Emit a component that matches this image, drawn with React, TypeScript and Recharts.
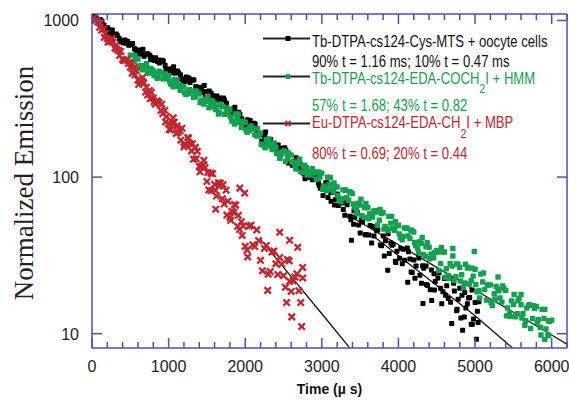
import React from "react";
import {
  ComposedChart,
  Scatter,
  Line,
  XAxis,
  YAxis,
  ReferenceLine,
} from "recharts";

// [time (µs), normalized emission]
const cysMts: [number, number][] = [
  [30, 1075], [80, 988], [130, 989], [180, 881], [230, 868], [280, 809], [330, 803], [380, 730], [430, 750], [480, 694],
  [530, 712], [580, 638], [630, 648], [680, 590], [730, 613], [780, 580], [830, 579], [880, 536], [930, 550], [980, 488],
  [1030, 492], [1080, 460], [1130, 464], [1180, 415], [1230, 435], [1280, 402], [1330, 417], [1380, 367], [1430, 375], [1480, 337],
  [1530, 354], [1580, 331], [1630, 330], [1680, 301], [1730, 311], [1780, 269], [1830, 272], [1880, 250], [1930, 252], [1980, 220],
  [2030, 232], [2080, 210], [2130, 217], [2180, 186], [2230, 188], [2280, 165], [2330, 174], [2380, 161], [2430, 160], [2480, 142],
  [2530, 149], [2580, 124], [2630, 126], [2680, 113], [2730, 115], [2780, 97.5], [2830, 108], [2880, 96], [2930, 102], [2980, 85],
  [3030, 87], [3080, 74], [3130, 80], [3180, 72], [3230, 71.5], [3280, 62], [3330, 66.5], [3380, 53.4], [3430, 55.5], [3480, 49.4],
  [3530, 51.7], [3580, 42.8], [3630, 49.1], [3680, 42], [3730, 45.9], [3780, 36.4], [3830, 39.2], [3880, 32.5], [3930, 37.1], [3980, 33.6],
  [4030, 35.1], [4080, 29.4], [4130, 33.4], [4180, 24.6], [4230, 27], [4280, 23.6], [4330, 26.2], [4380, 20.3], [4430, 25.5], [4480, 21.5],
  [4530, 24.5], [4580, 18.5], [4630, 20.2], [4680, 15.9], [4730, 18.7], [4780, 16.6], [4830, 17.6], [4880, 14.6], [4930, 17], [4980, 12.4],
  [5030, 13.9],
  [55, 1040], [105, 1010], [155, 935], [205, 900], [255, 830], [305, 815], [355, 770], [405, 745], [455, 712], [505, 700],
  [555, 660], [655, 612], [755, 600], [855, 548], [955, 515], [1055, 475], [1155, 450], [1255, 420], [1355, 378], [1455, 352],
  [1555, 343], [1655, 308], [1755, 296], [1855, 268], [1955, 236], [2055, 214], [2155, 196], [2255, 182], [2355, 160], [2455, 150],
  [2555, 134], [2655, 119], [2755, 110], [2855, 99], [2955, 92],
  [115, 1007], [215, 832], [315, 821], [415, 719], [515, 711], [615, 612], [715, 610], [815, 556], [915, 558], [1015, 464],
  [1115, 476], [1215, 407], [1315, 419], [1415, 346], [1515, 352], [1615, 314], [1715, 320], [1815, 257], [1915, 259], [2015, 214],
  [2115, 221], [2215, 170], [2315, 173], [2415, 150], [2515, 154], [2615, 119], [2715, 121], [2815, 100], [2915, 103],
  [165, 869], [265, 868], [365, 748], [465, 736], [565, 654], [665, 655], [765, 562], [865, 560], [965, 487], [1065, 507],
  [1165, 424], [1265, 429], [1365, 376], [1465, 385], [1565, 316], [1665, 320], [1765, 266], [1865, 279], [1965, 228], [2065, 230],
  [2165, 192], [2265, 194], [2365, 151], [2465, 153], [2565, 123], [2665, 133], [2765, 105], [2865, 107], [2965, 88.5],
  [3015, 76.3], [3115, 79.8], [3215, 65.8], [3315, 69.6], [3415, 50], [3515, 53.3], [3615, 42.6], [3715, 45.5], [3815, 31.3], [3915, 36.7],
  [4015, 30.3], [4115, 35.2], [4215, 22.6], [4315, 27.1], [4415, 19.1], [4515, 22.7], [4615, 17.6], [4715, 22.1], [4815, 12.6], [4915, 16.9],
  [3065, 92.2], [3165, 66.4], [3265, 68.2], [3365, 56.3], [3465, 59.5], [3565, 42.9], [3665, 48.4], [3765, 36.8], [3865, 43.4], [3965, 28.5],
  [4065, 34.6], [4165, 24.8], [4265, 30.4], [4365, 20.6], [4465, 24.1], [4565, 15.5], [4665, 22.9], [4765, 14.3], [4865, 18.3], [4965, 11.5],
  [3050, 92], [3120, 70], [3200, 78], [3300, 57], [3386, 39.5], [3420, 61], [3500, 44], [3560, 55], [3650, 38], [3700, 48],
  [3800, 42], [3860, 25.4], [3900, 38], [3960, 29], [4050, 28], [4121, 21.3], [4150, 30], [4200, 29.5], [4300, 21], [4320, 15.6],
  [4360, 27], [4434, 16.3], [4470, 19], [4550, 19.5], [4600, 22.5], [4650, 16.8], [4695, 11.6], [4720, 21], [4760, 14], [4800, 19.5],
  [4838, 10.5], [4860, 12.8], [4900, 15.5], [4950, 11.5], [4960, 19], [5000, 15.8], [5018, 9.2], [5040, 11.8], [5050, 16],
];

const edaCoch2i: [number, number][] = [
  [500, 601], [550, 549], [600, 567], [650, 493], [700, 501], [750, 463], [800, 476], [850, 427], [900, 461], [950, 426],
  [1000, 444], [1050, 390], [1100, 399], [1150, 358], [1200, 376], [1250, 351], [1300, 353], [1350, 326], [1400, 339], [1450, 298],
  [1500, 305], [1550, 282], [1600, 294], [1650, 253], [1700, 281], [1750, 253], [1800, 269], [1850, 228], [1900, 238], [1950, 207],
  [2000, 224], [2050, 206], [2100, 205], [2150, 183], [2200, 191], [2250, 157], [2300, 163], [2350, 150], [2400, 155], [2450, 132],
  [2500, 146], [2550, 131], [2600, 138], [2650, 118], [2700, 122], [2750, 107], [2800, 115], [2850, 107], [2900, 108], [2950, 97.1],
  [3000, 106], [3050, 83.7], [3100, 90], [3150, 80.8], [3200, 86.5], [3250, 69.5], [3300, 82.4], [3350, 71.2], [3400, 78.4], [3450, 62.2],
  [3500, 66.3], [3550, 55.3], [3600, 64], [3650, 58.6], [3700, 60.9], [3750, 53], [3800, 59.2], [3850, 46.8], [3900, 50.8], [3950, 45.7],
  [4000, 49.3], [4050, 39.8], [4100, 47], [4150, 40.6], [4200, 44.6], [4250, 35.3], [4300, 37.8], [4350, 31.2], [4400, 35.6], [4450, 32.2],
  [4500, 34], [4550, 28], [4600, 33.2], [4650, 23.5], [4700, 27], [4750, 23.1], [4800, 26.5], [4850, 19.7], [4900, 26.2], [4950, 21.8],
  [5000, 25.8], [5050, 18.8], [5100, 21.4], [5150, 16.4], [5200, 20.5], [5250, 18], [5300, 19.3], [5350, 15.9], [5400, 18.9], [5450, 13.4],
  [5500, 15.4], [5550, 13.4], [5600, 15.3], [5650, 11.3], [5700, 15.1], [5750, 12.5], [5800, 14.9], [5850, 11], [5900, 12.5], [5950, 9.7],
  [6000, 12.2],
  [525, 546], [575, 574], [625, 515], [675, 514], [725, 462], [775, 488], [825, 457], [875, 475], [925, 424], [975, 433],
  [1025, 392], [1075, 419], [1125, 380], [1175, 380], [1225, 337], [1275, 361], [1325, 323], [1375, 343], [1425, 310], [1475, 312],
  [1525, 277], [1575, 304], [1625, 278], [1675, 292], [1725, 252], [1775, 259], [1825, 228], [1875, 253], [1925, 224], [1975, 226],
  [2025, 193], [2075, 212], [2125, 186], [2175, 185], [2225, 161], [2275, 173], [2325, 158], [2375, 165], [2425, 141], [2475, 144],
  [2525, 126], [2575, 139], [2625, 124], [2675, 125], [2725, 108], [2775, 119], [2825, 108], [2875, 113], [2925, 97], [2975, 100],
  [3025, 87.7], [3075, 99.9], [3125, 83.1], [3175, 86.7], [3225, 71.8], [3275, 82.9], [3325, 73.8], [3375, 80.1], [3425, 64.4], [3475, 68.1],
  [3525, 56.7], [3575, 67.9], [3625, 58.3], [3675, 60.6], [3725, 49.2], [3775, 58.5], [3825, 48.4], [3875, 56.1], [3925, 46.9], [3975, 48.8],
  [4025, 41], [4075, 47.4], [4125, 42.1], [4175, 45.6], [4225, 36.6], [4275, 38.7], [4325, 32.1], [4375, 38.1], [4425, 32.2], [4475, 33],
  [4525, 25.3], [4575, 33.2], [4625, 26], [4675, 28.1], [4725, 21.8], [4775, 27.8], [4825, 23.8], [4875, 27.8], [4925, 20.8], [4975, 23.3],
  [5025, 18.5], [5075, 24], [5125, 19.1], [5175, 20.5], [5225, 15.1], [5275, 20], [5325, 16.9], [5375, 19.5], [5425, 14.6], [5475, 16.2],
  [5525, 12.8], [5575, 16.8], [5625, 13.4], [5675, 14.6], [5725, 10.8], [5775, 14.5], [5825, 12.3], [5875, 14.3], [5925, 10.7], [5975, 12],
  [560, 598], [660, 485], [760, 494], [860, 435], [960, 455], [1060, 377], [1160, 383], [1260, 341], [1360, 355], [1460, 293],
  [1560, 307], [1660, 260], [1760, 275], [1860, 218], [1960, 227], [2060, 199], [2160, 204], [2260, 154], [2360, 163], [2460, 136],
  [2560, 143], [2660, 113], [2760, 117], [2860, 103], [2960, 108], [3060, 81.8], [3160, 91.6], [3260, 72.8], [3360, 80.6], [3460, 58.3],
  [3560, 63.6], [3660, 55.6], [3760, 62.2], [3860, 45.7], [3960, 51.8], [4060, 41.7], [4160, 45.9], [4260, 33.1], [4360, 35.9], [4460, 30.5],
  [4560, 35.5], [4660, 22.6], [4760, 27.9], [4860, 21.1], [4960, 26.2], [5060, 16.9], [5160, 20.4], [5260, 16.6], [5360, 20.2], [5460, 12.9],
  [5560, 16.2], [5660, 12.1], [5760, 15.1], [5860, 9.8], [5960, 12.1],
  [610, 500], [710, 529], [810, 445], [910, 464], [1010, 410], [1110, 419], [1210, 345], [1310, 351], [1410, 299], [1510, 328],
  [1610, 270], [1710, 283], [1810, 242], [1910, 253], [2010, 200], [2110, 203], [2210, 162], [2310, 175], [2410, 142], [2510, 147],
  [2610, 125], [2710, 130], [2810, 103], [2910, 107], [3010, 83.5], [3110, 99.4], [3210, 76.1], [3310, 82.9], [3410, 67.3], [3510, 72.3],
  [3610, 54.1], [3710, 59.8], [3810, 46.5], [3910, 56.1], [4010, 43.3], [4110, 47.3], [4210, 38.2], [4310, 41.2], [4410, 30.1], [4510, 33.2],
  [4610, 22.9], [4710, 31.3], [4810, 21.7], [4910, 26.6], [5010, 20.6], [5110, 24.4], [5210, 15.8], [5310, 18.8], [5410, 13], [5510, 17.8],
  [5610, 12.6], [5710, 15.3], [5810, 11.8], [5910, 14.3],
  [4710, 35], [4990, 33.5], [5910, 9.2], [5960, 9.8], [5300, 23], [5600, 17.8],
];

const euCh2i: [number, number][] = [
  [50, 1009], [100, 904], [150, 881], [200, 764], [250, 736], [300, 667], [350, 643], [400, 564], [450, 561], [500, 503],
  [550, 503], [600, 417], [650, 411], [700, 349], [750, 357], [800, 319], [850, 307], [900, 266], [950, 267], [1000, 219],
  [1050, 220], [1100, 190], [1150, 198], [1200, 156], [1250, 179], [1300, 147], [1350, 155], [1400, 117], [1450, 119], [1500, 93.7],
  [1550, 106], [1600, 90], [1650, 92], [1700, 72.8], [1750, 82.5], [1800, 55.2], [1850, 59.7], [1900, 48.5], [1950, 51.9], [2000, 36.1],
  [2050, 48.6], [2100, 37], [2150, 46], [2200, 29.4], [2250, 35], [2300, 24], [2350, 33.2], [2400, 28], [2450, 30.6], [2500, 23.4],
  [2550, 29.8], [2600, 18.6], [2650, 23], [2700, 18.8], [2750, 22.7],
  [25, 1045], [75, 980], [125, 868], [175, 826], [225, 733], [275, 724], [325, 654], [375, 634], [425, 556], [475, 532],
  [525, 461], [575, 480], [625, 413], [675, 399], [725, 334], [775, 348], [825, 292], [875, 299], [925, 254], [975, 244],
  [1025, 200], [1075, 224], [1125, 193], [1175, 205], [1225, 161], [1275, 164], [1325, 130], [1375, 146], [1425, 117], [1475, 115],
  [1525, 82.8], [1575, 105], [1625, 75.6], [1675, 91.5], [1725, 67.3], [1775, 70.1], [1825, 60.4], [1875, 66.1], [1925, 46.2], [1975, 48.7],
  [2025, 34.2], [2075, 49.2], [2125, 36], [2175, 39.3], [2225, 25.2], [2275, 36.6], [2325, 24.9], [2375, 33.7], [2425, 23.9], [2475, 27.8],
  [2525, 19.8], [2575, 29.2], [2625, 21.7], [2675, 24.1], [2725, 15.8],
  [110, 965], [210, 728], [310, 694], [410, 556], [510, 536], [610, 390], [710, 374], [810, 303], [910, 292], [1010, 202],
  [1110, 212], [1210, 161], [1310, 163], [1410, 108], [1510, 107], [1610, 82.2], [1710, 89.4], [1810, 53], [1910, 57],
  [160, 779], [260, 767], [360, 598], [460, 564], [560, 450], [660, 433], [760, 316], [860, 300], [960, 225], [1060, 239],
  [1160, 172], [1260, 177], [1360, 131], [1460, 128], [1560, 81.8], [1660, 87.7], [1760, 57.2], [1860, 66.8], [1960, 42.4],
  [1615, 62.4], [2294, 18.9], [2580, 21.6], [2607, 12.8], [2737, 11.1], [1930, 85], [1993, 79], [2450, 44.4], [2580, 39.5], [2685, 35.6],
  [2750, 26.5], [2540, 15.8], [2031, 30.9],
];

// fitted decay curves (only the stretch that shows beyond the point clouds)
const cysFit: [number, number][] = [[3700, 41], [4500, 20.3], [5000, 13], [5500, 8], [5600, 7.3]];
const edaFit: [number, number][] = [[3400, 55], [4000, 37], [4500, 26.5], [5000, 19], [5500, 13.7], [6000, 9.8], [6300, 8]];
const euFit: [number, number][] = [[2200, 40], [2500, 26.5], [3000, 13.4], [3450, 7.2]];

const xTicks = [0, 200, 400, 600, 800, 1000, 1200, 1400, 1600, 1800, 2000, 2200, 2400, 2600, 2800, 3000,
  3200, 3400, 3600, 3800, 4000, 4200, 4400, 4600, 4800, 5000, 5200, 5400, 5600, 5800, 6000, 6200];
const yTicks = [10, 100, 1000];

const W = 569;
const H = 400;
const M = { top: 14, right: 2, bottom: 0, left: 0 };
const Y_W = 92;
const X_H = 52;
const PLOT_W = W - M.left - M.right - Y_W;
const PLOT_H = H - M.top - M.bottom - X_H;

const AXIS = "#4b52ad";
const GREEN = "#12a24f";
const RED = "#c4252f";
const SANS = "'Liberation Sans', Arial, sans-serif";

const toRows = (pts: [number, number][]) => pts.map(([t, v]) => ({ t, v }));

const BottomTick = (props: any) => {
  const { x, y, payload } = props;
  const major = payload.value % 1000 === 0;
  const len = major ? 10 : 6;
  return (
    <g>
      <line x1={x} y1={y} x2={x} y2={y - len} stroke={AXIS} strokeWidth={1.5} />
      <line x1={x} y1={y - PLOT_H} x2={x} y2={y - PLOT_H + len} stroke={AXIS} strokeWidth={1.5} />
      {major && (
        <text x={x} y={y + 24} textAnchor="middle" fontFamily={SANS} fontSize={16} fill="#222">
          {payload.value}
        </text>
      )}
    </g>
  );
};

const LeftTick = (props: any) => {
  const { x, y, payload } = props;
  return (
    <g>
      <line x1={x} y1={y} x2={x + 10} y2={y} stroke={AXIS} strokeWidth={1.5} />
      <line x1={x + PLOT_W} y1={y} x2={x + PLOT_W - 10} y2={y} stroke={AXIS} strokeWidth={1.5} />
      <text x={x - 13} y={y + 6} textAnchor="end" fontFamily={SANS} fontSize={16} fill="#222">
        {payload.value}
      </text>
    </g>
  );
};

const Square = (size: number, fill: string) => (props: any) => {
  const { cx, cy } = props;
  if (cx == null || cy == null) return <g />;
  return <rect x={cx - size / 2} y={cy - size / 2} width={size} height={size} fill={fill} rx={0.7} />;
};

const Cross = (props: any) => {
  const { cx, cy } = props;
  if (cx == null || cy == null) return <g />;
  const r = 3.2;
  return (
    <g stroke={RED} strokeWidth={2.3}>
      <line x1={cx - r} y1={cy - r} x2={cx + r} y2={cy + r} />
      <line x1={cx - r} y1={cy + r} x2={cx + r} y2={cy - r} />
    </g>
  );
};

const YLabel = () => (
  <text
    x={33}
    y={183}
    transform="rotate(-90 33 183)"
    textAnchor="middle"
    fontFamily="'Liberation Serif', 'Times New Roman', serif"
    fontSize={27}
    fill="#222"
  >
    Normalized Emission
  </text>
);

const LegendSwatch = ({ y, marker }: { y: number; marker: React.ReactNode }) => (
  <g>
    <line x1={263} y1={y} x2={310} y2={y} stroke="#222" strokeWidth={1.8} />
    {marker}
  </g>
);

const narrow = (x: number, y: number) => `translate(${x} ${y}) scale(0.82 1)`;

const LegendBox = () => (
  <svg width={W} height={H} style={{ position: "absolute", left: 0, top: 0, pointerEvents: "none" }}>
    <g fontFamily={SANS} fontSize={16}>
      <LegendSwatch y={38.5} marker={<rect x={285.5} y={36} width={5} height={5} fill="#000" />} />
      <text transform={narrow(312, 47)} fill="#111">Tb-DTPA-cs124-Cys-MTS + oocyte cells</text>
      <text transform={narrow(312, 66.5)} fill="#111">90% t = 1.16 ms; 10% t = 0.47 ms</text>

      <LegendSwatch y={76.5} marker={<rect x={285.5} y={74} width={5} height={5} fill={GREEN} rx={1.5} />} />
      <text transform={narrow(312, 84)} fill={GREEN}>
        Tb-DTPA-cs124-EDA-COCH
        <tspan dy={9} fontSize={13}>2</tspan>
        <tspan dy={-9}>I + HMM</tspan>
      </text>
      <text transform={narrow(312, 111)} fill={GREEN}>57% t = 1.68; 43% t = 0.82</text>

      <LegendSwatch
        y={123.5}
        marker={
          <g stroke={RED} strokeWidth={2}>
            <line x1={285.5} y1={121} x2={290.5} y2={126} />
            <line x1={285.5} y1={126} x2={290.5} y2={121} />
          </g>
        }
      />
      <text transform={narrow(312, 127.5)} fill={RED}>
        Eu-DTPA-cs124-EDA-CH
        <tspan dy={10} fontSize={13}>2</tspan>
        <tspan dy={-10}>I + MBP</tspan>
      </text>
      <text transform={narrow(312, 158.5)} fill={RED}>80% t = 0.69; 20% t = 0.44</text>
    </g>
  </svg>
);

export default function App() {
  return (
    <div style={{ position: "absolute", left: 0, top: 0, width: W, height: H, background: "#fff" }}>
      <ComposedChart width={W} height={H} margin={M}>
        <XAxis
          type="number"
          dataKey="t"
          domain={[0, 6200]}
          ticks={xTicks}
          interval={0}
          allowDataOverflow
          height={X_H}
          tickSize={0}
          tickMargin={0}
          axisLine={{ stroke: AXIS, strokeWidth: 1.5 }}
          tick={<BottomTick />}
          label={{
            value: "Time (\u00b5 s)",
            position: "insideBottom",
            offset: 6,
            style: { fontFamily: SANS, fontSize: 14, fontWeight: 700, fill: "#111" },
          }}
        />
        <YAxis
          type="number"
          dataKey="v"
          scale="log"
          domain={[8.1, 1100]}
          ticks={yTicks}
          interval={0}
          allowDataOverflow
          width={Y_W}
          tickSize={0}
          tickMargin={0}
          axisLine={{ stroke: AXIS, strokeWidth: 1.5 }}
          tick={<LeftTick />}
          label={<YLabel />}
        />
        <ReferenceLine y={1100} stroke={AXIS} strokeWidth={1.5} />
        <ReferenceLine x={6200} stroke={AXIS} strokeWidth={1.5} />

        <Scatter data={toRows(cysMts)} dataKey="v" shape={Square(5, "#000")} isAnimationActive={false} />
        <Scatter data={toRows(edaCoch2i)} dataKey="v" shape={Square(5.4, GREEN)} isAnimationActive={false} />
        <Scatter data={toRows(euCh2i)} dataKey="v" shape={Cross} isAnimationActive={false} />

        <Line data={toRows(cysFit)} dataKey="v" type="linear" stroke="#111" strokeWidth={1.3} dot={false} activeDot={false} isAnimationActive={false} />
        <Line data={toRows(edaFit)} dataKey="v" type="linear" stroke="#111" strokeWidth={1.3} dot={false} activeDot={false} isAnimationActive={false} />
        <Line data={toRows(euFit)} dataKey="v" type="linear" stroke="#111" strokeWidth={1.3} dot={false} activeDot={false} isAnimationActive={false} />
      </ComposedChart>
      <LegendBox />
    </div>
  );
}
